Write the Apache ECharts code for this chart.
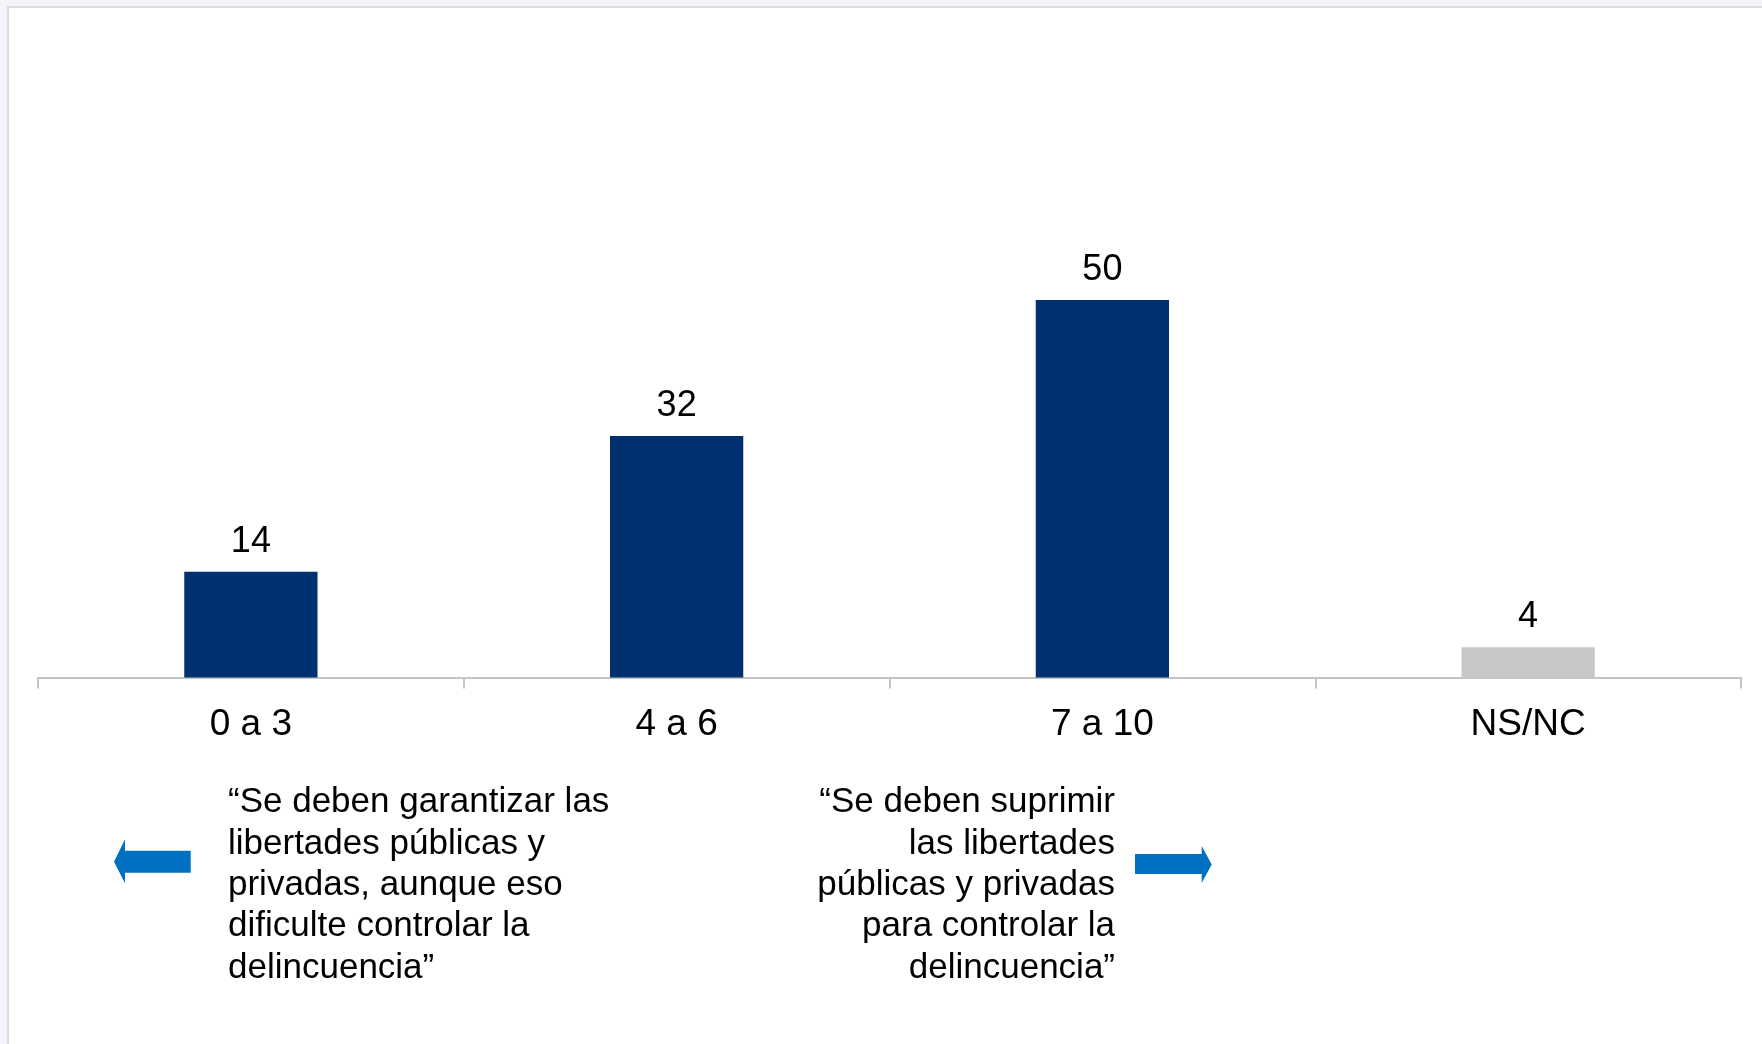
<!DOCTYPE html>
<html>
<head>
<meta charset="utf-8">
<script src="https://cdn.jsdelivr.net/npm/echarts@6/dist/echarts.min.js"></script>
<style>
html,body{margin:0;padding:0;background:#f4f5fa;}
#chart{width:1762px;height:1044px;}
</style>
</head>
<body>
<div id="chart"></div>
<script>
var categories = ['0 a 3', '4 a 6', '7 a 10', 'NS/NC'];
var values = [14, 32, 50, 4];
var barColors = ['#00306F', '#00306F', '#00306F', '#C8C8C8'];
var leftNote = '“Se deben garantizar las\nlibertades públicas y\nprivadas, aunque eso\ndificulte controlar la\ndelincuencia”';
var rightNote = '“Se deben suprimir\nlas libertades\npúblicas y privadas\npara controlar la\ndelincuencia”';

var FONT = '"Liberation Sans", Arial, sans-serif';
var chart = echarts.init(document.getElementById('chart'), null, {renderer: 'canvas'});
chart.setOption({
  backgroundColor: '#f4f5fa',
  animation: false,
  grid: {left: 38, right: 21, top: 224.5, bottom: 366.5, containLabel: false},
  xAxis: {
    type: 'category',
    data: categories,
    axisLine: {show: true, lineStyle: {color: '#C4C4C4', width: 2}},
    axisTick: {show: true, length: 11, lineStyle: {color: '#C4C4C4', width: 2}},
    axisLabel: {color: '#000', fontSize: 37, fontFamily: FONT, margin: 29}
  },
  yAxis: {
    type: 'value', min: 0, max: 60, show: false,
    splitLine: {show: false}
  },
  graphic: [
    {type: 'rect', z: -10, silent: true,
     shape: {x: 8, y: 7, width: 1800, height: 1100},
     style: {fill: '#ffffff', stroke: '#DCDCDC', lineWidth: 2}},
    {type: 'text', x: 228, y: 782,
     style: {text: leftNote, fill: '#000', font: '35px ' + FONT, lineHeight: 41.3, align: 'left', verticalAlign: 'top'}},
    {type: 'text', x: 1115, y: 782,
     style: {text: rightNote, fill: '#000', font: '35px ' + FONT, lineHeight: 41.3, align: 'right', verticalAlign: 'top'}},
    {type: 'polygon',
     shape: {points: [[114, 861.7], [125, 839.3], [125, 850.7], [190.7, 850.7], [190.7, 872.7], [125, 872.7], [125, 883.3]]},
     style: {fill: '#0070C0'}},
    {type: 'polygon',
     shape: {points: [[1135, 854], [1201.7, 854], [1201.7, 846], [1211.7, 864.5], [1201.7, 883], [1201.7, 874], [1135, 874]]},
     style: {fill: '#0070C0'}}
  ],
  series: [{
    type: 'bar',
    data: values.map(function (v, i) { return {value: v, itemStyle: {color: barColors[i]}}; }),
    barWidth: '31.3%',
    label: {show: true, position: 'top', distance: 12, color: '#000', fontSize: 36, fontFamily: FONT}
  }]
});
</script>
</body>
</html>
